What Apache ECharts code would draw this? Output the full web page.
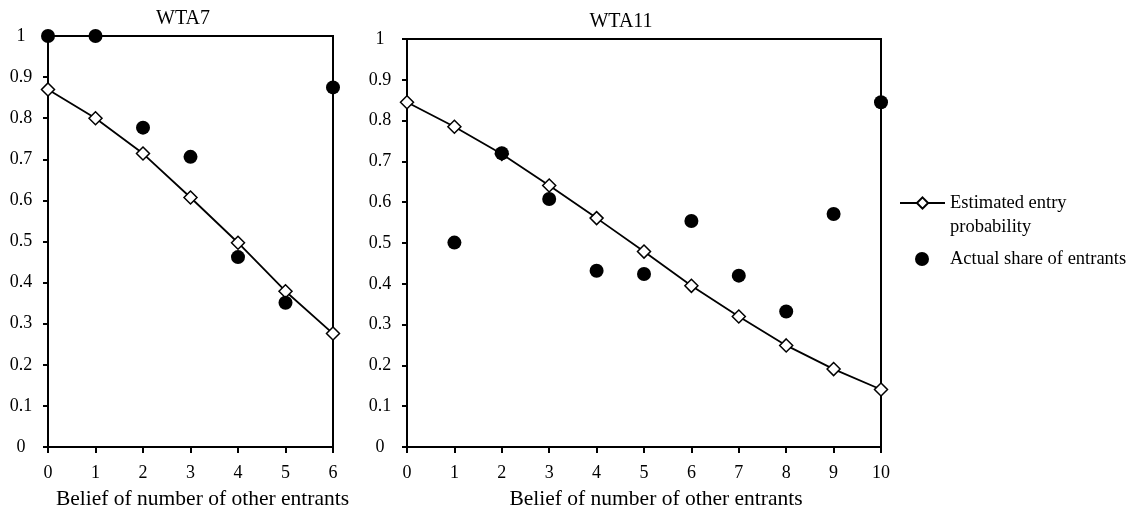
<!DOCTYPE html>
<html>
<head>
<meta charset="utf-8">
<script src="https://cdn.jsdelivr.net/npm/echarts@6/dist/echarts.min.js"></script>
<style>
  html, body { margin: 0; padding: 0; background: #fff; }
  #chart { width: 1135px; height: 508px; }
</style>
</head>
<body>
<div id="chart"></div>
<script>
// WTA7 panel: beliefs 0..6
const beliefs7 = [0, 1, 2, 3, 4, 5, 6]
const estimated7 = [0.870, 0.800, 0.714, 0.607, 0.497, 0.379, 0.276]
const actual7 = [1.0, 1.0, 0.777, 0.706, 0.462, 0.351, 0.875]

// WTA11 panel: beliefs 0..10 (no observed share at 0)
const beliefs11 = [0, 1, 2, 3, 4, 5, 6, 7, 8, 9, 10]
const estimated11 = [0.845, 0.785, 0.718, 0.641, 0.561, 0.479, 0.395, 0.320, 0.249, 0.191, 0.141]
const actual11 = [null, 0.501, 0.720, 0.608, 0.432, 0.424, 0.554, 0.420, 0.332, 0.571, 0.845]

const titles = ['WTA7', 'WTA11']
const xName = 'Belief of number of other entrants'
const estName = 'Estimated entry probability'
const actName = 'Actual share of entrants'

const FONT = '"Liberation Serif", "Times New Roman", serif'
const BLACK = '#000'

const pairs = (xs, ys) => xs.map((x, i) => [x, ys[i]]).filter(p => p[1] !== null)

function xAxisFor(idx, max) {
  return {
    gridIndex: idx,
    type: 'value',
    min: 0,
    max: max,
    interval: 1,
    name: xName,
    nameLocation: 'middle',
    nameGap: 41,
    nameTextStyle: { fontFamily: FONT, fontSize: 21.5, color: BLACK, padding: [0, 0, 0, 24] },
    axisLine: { show: true, lineStyle: { color: BLACK, width: 2 } },
    axisTick: { show: true, length: 6, lineStyle: { color: BLACK, width: 2 } },
    axisLabel: { fontFamily: FONT, fontSize: 18, color: BLACK, margin: 17 },
    splitLine: { show: false },
  }
}

function yAxisFor(idx) {
  return {
    gridIndex: idx,
    type: 'value',
    min: 0,
    max: 1,
    interval: 0.1,
    axisLine: { show: true, lineStyle: { color: BLACK, width: 2 } },
    axisTick: { show: true, length: 5, lineStyle: { color: BLACK, width: 2 } },
    axisLabel: { fontFamily: FONT, fontSize: 18, color: BLACK, margin: 27, align: 'center' },
    splitLine: { show: false },
  }
}

function lineSeries(idx, xs, ys) {
  return {
    name: estName,
    type: 'line',
    xAxisIndex: idx,
    yAxisIndex: idx,
    data: pairs(xs, ys),
    symbol: 'diamond',
    symbolSize: 13,
    itemStyle: { color: '#fff', borderColor: BLACK, borderWidth: 1.5, opacity: 1 },
    lineStyle: { color: BLACK, width: 1.8 },
    z: 2,
  }
}

function dotSeries(idx, xs, ys) {
  return {
    name: actName,
    type: 'scatter',
    xAxisIndex: idx,
    yAxisIndex: idx,
    data: pairs(xs, ys),
    symbol: 'circle',
    symbolSize: 14,
    itemStyle: { color: BLACK, opacity: 1 },
    z: 3,
  }
}

const chart = echarts.init(document.getElementById('chart'), null, { renderer: 'canvas' })

chart.setOption({
  backgroundColor: '#fff',
  animation: false,
  textStyle: { fontFamily: FONT },
  title: [
    { text: titles[0], left: 178, top: 4, textAlign: 'center',
      textStyle: { fontFamily: FONT, fontSize: 20, fontWeight: 'normal', color: BLACK } },
    { text: titles[1], left: 616, top: 7, textAlign: 'center',
      textStyle: { fontFamily: FONT, fontSize: 20, fontWeight: 'normal', color: BLACK } },
  ],
  grid: [
    { left: 48, top: 36, width: 285, height: 411, outerBoundsMode: 'none',
      show: true, borderColor: BLACK, borderWidth: 2 },
    { left: 407, top: 39, width: 474, height: 408, outerBoundsMode: 'none',
      show: true, borderColor: BLACK, borderWidth: 2 },
  ],
  legend: [
    {
      data: [estName],
      left: 899,
      top: 167,
      padding: 0,
      itemWidth: 45,
      itemHeight: 14,
      selectedMode: false,
      // blank first line keeps "Estimated entry" level with the icon
      formatter: () => '\nEstimated entry\nprobability',
      textStyle: { fontFamily: FONT, fontSize: 18.5, color: BLACK, lineHeight: 24 },
    },
    {
      data: [actName],
      left: 915,
      top: 247,
      padding: 0,
      itemWidth: 14,
      itemHeight: 14,
      itemGap: 0,
      selectedMode: false,
      textStyle: { fontFamily: FONT, fontSize: 18.5, color: BLACK, lineHeight: 24, padding: [0, 0, 0, 16] },
    },
  ],
  xAxis: [xAxisFor(0, 6), xAxisFor(1, 10)],
  yAxis: [yAxisFor(0), yAxisFor(1)],
  series: [
    lineSeries(0, beliefs7, estimated7),
    dotSeries(0, beliefs7, actual7),
    lineSeries(1, beliefs11, estimated11),
    dotSeries(1, beliefs11, actual11),
  ],
})
</script>
</body>
</html>
